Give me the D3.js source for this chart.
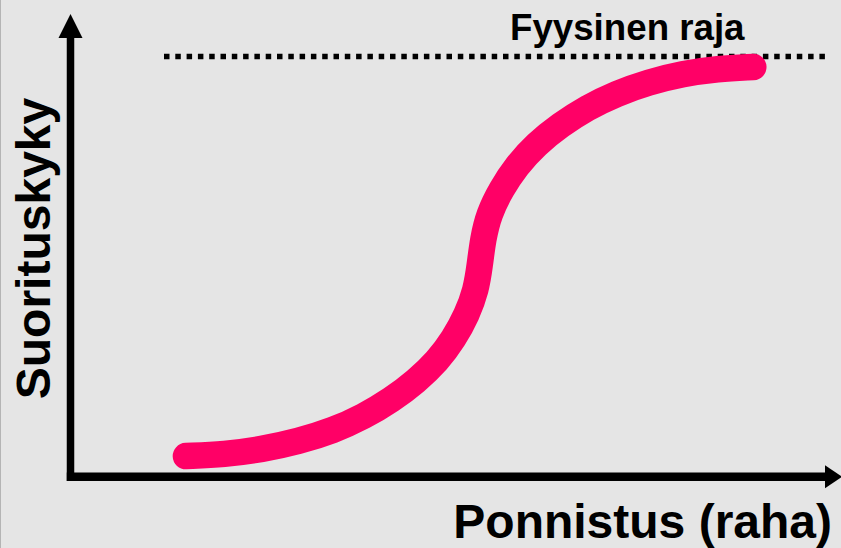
<!DOCTYPE html>
<html>
<head>
<meta charset="utf-8">
<script src="https://cdn.jsdelivr.net/npm/d3@7/dist/d3.min.js"></script>
<style>
  html, body { margin: 0; padding: 0; background: #e5e5e5; }
  svg { display: block; }
  text { font-family: "Liberation Sans", Arial, sans-serif; font-weight: bold; fill: #000; }
</style>
</head>
<body>
<script>
// Data (effort in arbitrary units, performance in arbitrary units)
const effort      = [1.52, 2.03, 2.52, 3.00, 3.46, 3.86, 4.23, 4.55, 4.83, 5.05, 5.22, 5.34, 5.39,
                     5.43, 5.51, 5.67, 5.87, 6.13, 6.45, 6.80, 7.19, 7.61, 8.06, 8.52, 8.99];
const performance = [0.49, 0.53, 0.65, 0.84, 1.10, 1.43, 1.83, 2.27, 2.75, 3.29, 3.86, 4.44, 5.04,
                     5.65, 6.26, 6.84, 7.39, 7.91, 8.37, 8.78, 9.12, 9.39, 9.59, 9.71, 9.75];
const physicalLimit = 10;
const limitLabel = "Fyysinen raja";
const xLabel = "Ponnistus (raha)";
const yLabel = "Suorituskyky";

const W = 841, H = 548;
const svg = d3.select("body").append("svg").attr("width", W).attr("height", H);

svg.append("rect").attr("width", W).attr("height", H).attr("fill", "#e5e5e5");
svg.append("line").attr("x1", 0.5).attr("x2", 0.5).attr("y1", 0).attr("y2", H)
  .attr("stroke", "#b4b4b4").attr("stroke-width", 1);

const x = d3.scaleLinear().domain([0, 10]).range([70.5, 830]);
const y = d3.scaleLinear().domain([0, 10]).range([476.7, 56.5]);

// Physical limit dotted line
svg.append("line")
  .attr("x1", 164).attr("x2", 828)
  .attr("y1", y(physicalLimit)).attr("y2", y(physicalLimit))
  .attr("stroke", "#000").attr("stroke-width", 5.5)
  .attr("stroke-dasharray", "5.5,5.8");

svg.append("text").attr("x", 510).attr("y", 39.5)
  .attr("font-size", 36.7).text(limitLabel);

// Axes with arrows
svg.append("line").attr("x1", x(0)).attr("x2", x(0))
  .attr("y1", y(0) + 4.3).attr("y2", 36)
  .attr("stroke", "#000").attr("stroke-width", 7.5);
svg.append("path").attr("d", `M${x(0) - 12},38 L${x(0) + 12},38 L${x(0)},14 Z`).attr("fill", "#000");

svg.append("line").attr("x1", x(0) - 3.7).attr("x2", 827)
  .attr("y1", y(0)).attr("y2", y(0))
  .attr("stroke", "#000").attr("stroke-width", 8.6);
svg.append("path").attr("d", `M825,${y(0) - 11.5} L825,${y(0) + 11.5} L842,${y(0)} Z`).attr("fill", "#000");

// Curve
const pts = effort.map((e, i) => [e, performance[i]]);
const line = d3.line().x(d => x(d[0])).y(d => y(d[1])).curve(d3.curveBasis);
svg.append("path").attr("d", line(pts))
  .attr("fill", "none").attr("stroke", "#ff0066").attr("stroke-width", 26.5)
  .attr("stroke-linecap", "round").attr("stroke-linejoin", "round");

// Axis labels
svg.append("text").attr("x", 832).attr("y", 538).attr("text-anchor", "end")
  .attr("font-size", 48).text(xLabel);
svg.append("text").attr("transform", "translate(50,248.5) rotate(-90)")
  .attr("text-anchor", "middle").attr("font-size", 48).text(yLabel);
</script>
</body>
</html>
